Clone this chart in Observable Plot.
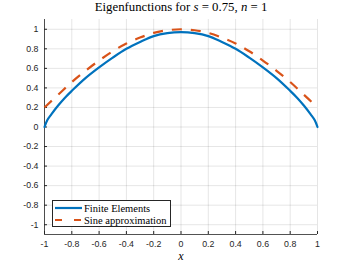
<!DOCTYPE html>
<html><head><meta charset="utf-8">
<script src="https://cdn.jsdelivr.net/npm/d3@7"></script>
<script src="https://cdn.jsdelivr.net/npm/@observablehq/plot@0.6"></script>
<style>
body{margin:0;background:#fff;}
#wrap{position:relative;width:350px;height:263px;overflow:hidden;}
#title{position:absolute;top:0px;left:0;width:362px;text-align:center;font:12.8px "Liberation Serif",serif;color:#000;white-space:nowrap;}
#legend{position:absolute;left:52px;top:200px;width:117px;height:25px;border:0.8px solid #262626;background:#fff;font-family:"Liberation Serif","DejaVu Serif",serif;font-size:10.5px;color:#000;}
.row{position:absolute;left:2px;height:12px;display:flex;align-items:center;white-space:nowrap;}
.row svg{margin-right:2px;}
</style></head><body>
<div id="wrap"></div>
<script>
// Finite element eigenfunction
const feX = [-1, -0.98, -0.95, -0.9, -0.85, -0.8, -0.7, -0.6, -0.5, -0.4, -0.3, -0.2, -0.1, 0, 0.1, 0.2, 0.3, 0.4, 0.5, 0.6, 0.7, 0.8, 0.85, 0.9, 0.95, 0.98, 1];
const feY = [0, 0.07, 0.13, 0.22, 0.30, 0.37, 0.50, 0.61, 0.71, 0.80, 0.87, 0.93, 0.96, 0.97, 0.96, 0.93, 0.87, 0.80, 0.71, 0.61, 0.50, 0.37, 0.30, 0.22, 0.13, 0.07, 0];
// Sine approximation
const sineX = [-1, -0.9, -0.8, -0.7, -0.6, -0.5, -0.4, -0.3, -0.2, -0.1, 0, 0.1, 0.2, 0.3, 0.4, 0.5, 0.6, 0.7, 0.8, 0.9, 1];
const sineY = [0.2, 0.33, 0.46, 0.575, 0.68, 0.775, 0.855, 0.915, 0.963, 0.99, 1, 0.99, 0.963, 0.915, 0.855, 0.775, 0.68, 0.575, 0.46, 0.33, 0.2];
const xTicks = [-1, -0.8, -0.6, -0.4, -0.2, 0, 0.2, 0.4, 0.6, 0.8, 1];
const yTicks = [-1, -0.8, -0.6, -0.4, -0.2, 0, 0.2, 0.4, 0.6, 0.8, 1];
const seriesNames = ["Finite Elements", "Sine approximation"];
const colors = ["#0072BD", "#D95319"];
const xLabel = "x";

const fe = feX.map((x, i) => ({x, y: feY[i]}));
const sine = sineX.map((x, i) => ({x, y: sineY[i]}));
const fmt = d => String(+d.toFixed(1));

const chart = Plot.plot({
  width: 350, height: 263,
  marginLeft: 44, marginRight: 33, marginTop: 19, marginBottom: 29,
  x: {domain: [-1, 1]},
  y: {domain: [-1.1, 1.1]},
  style: {fontFamily: "'Liberation Sans', Arial, sans-serif", fontSize: "8.8px", color: "#262626", background: "#fff"},
  marks: [
    Plot.gridX(xTicks, {stroke: "#000", strokeOpacity: 0.1}),
    Plot.gridY(yTicks, {stroke: "#000", strokeOpacity: 0.1}),
    Plot.axisX(xTicks, {tickSize: -3, tickPadding: 9, tickFormat: fmt, label: null, stroke: "#262626"}),
    Plot.axisY(yTicks, {tickSize: -3, tickPadding: 9, tickFormat: fmt, label: null, stroke: "#262626"}),
    Plot.ruleX([-1], {stroke: "#262626", strokeWidth: 0.8}),
    Plot.ruleY([-1.1], {stroke: "#262626", strokeWidth: 0.8}),
    Plot.line(fe, {x: "x", y: "y", stroke: colors[0], strokeWidth: 2.2, curve: "catmull-rom"}),
    Plot.line(sine, {x: "x", y: "y", stroke: colors[1], strokeWidth: 2.2, strokeDasharray: "10,9", strokeLinecap: "butt", curve: "catmull-rom"}),
    Plot.text([xLabel], {frameAnchor: "bottom", dy: 25, fontFamily: "'Liberation Serif', serif", fontStyle: "italic", fontSize: 12, fill: "#000"})
  ]
});

const wrap = document.getElementById("wrap");
wrap.appendChild(chart);

const title = document.createElement("div");
title.id = "title";
title.innerHTML = "Eigenfunctions for <i>s</i> = 0.75, <i>n</i> = 1";
wrap.appendChild(title);

const legend = document.createElement("div");
legend.id = "legend";
seriesNames.forEach((name, i) => {
  const row = document.createElement("div");
  row.className = "row";
  row.style.top = (i === 0 ? 1 : 13) + "px";
  const dash = i === 1 ? 'stroke-dasharray="7,12"' : '';
  row.innerHTML = `<svg width="27" height="4"><line x1="0" y1="2" x2="27" y2="2" stroke="${colors[i]}" stroke-width="2.2" ${dash}/></svg><span>${name}</span>`;
  legend.appendChild(row);
});
wrap.appendChild(legend);
</script>
</body></html>
